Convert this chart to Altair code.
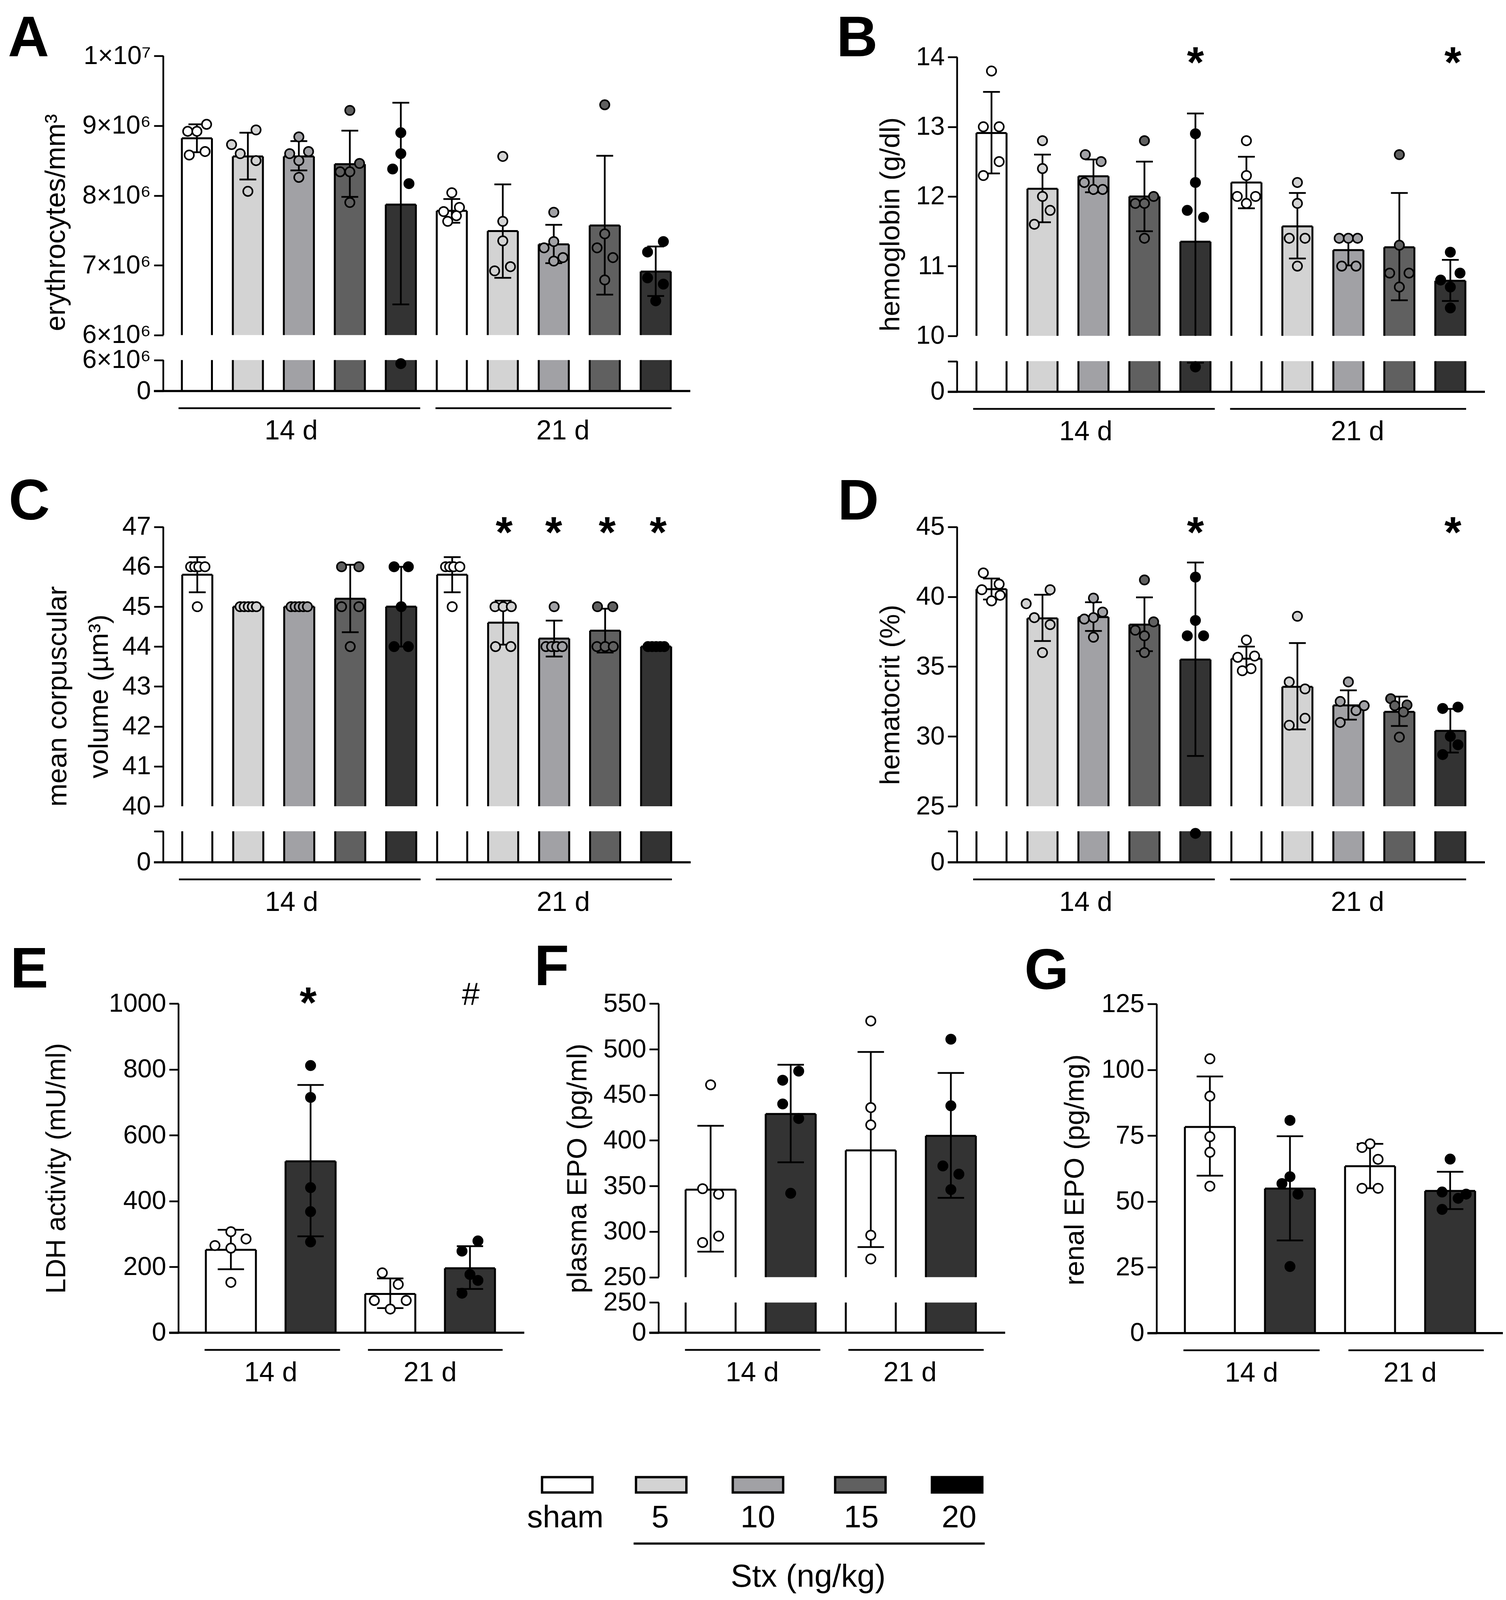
import altair as alt
import pandas as pd

FONT = "Liberation Sans"
PAGE = 8
W, H = 3839, 4080
EPS = 1e-6
# the photographed page stops near 4096 px, so vertical placement is squeezed to keep the legend in
YS = 4090 / 4282

five = ["#ffffff", "#d3d3d3", "#a1a1a5", "#606060", "#333333"] * 2
five_pts = ["#ffffff", "#d3d3d3", "#a1a1a5", "#606060", "#000000"] * 2
two = ["#ffffff", "#333333"] * 2
two_pts = ["#ffffff", "#000000"] * 2

# A erythrocytes, in millions
a_mean = [8.82, 8.56, 8.56, 8.45, 7.87, 7.78, 7.49, 7.30, 7.57, 6.91]
a_hi = [9.02, 8.90, 8.78, 8.93, 9.33, 7.95, 8.16, 7.58, 8.57, 7.27]
a_lo = [8.62, 8.23, 8.36, 7.98, 6.44, 7.61, 6.82, 7.03, 6.58, 6.56]
a_pts = [[8.92, 8.92, 9.02, 8.58, 8.63], [8.73, 8.60, 8.94, 8.50, 8.06], [8.84, 8.60, 8.63, 8.50, 8.26],
         [9.22, 8.46, 8.34, 8.34, 7.90], [8.90, 8.60, 8.38, 8.17, 5.30], [8.04, 7.83, 7.77, 7.71, 7.63],
         [8.56, 7.63, 7.35, 6.98, 6.92], [7.76, 7.34, 7.25, 7.11, 7.06], [9.30, 7.45, 7.25, 7.11, 6.79],
         [7.34, 7.19, 6.82, 6.73, 6.49]]
a_jit = [[-.18, 0, .19, -.15, .16], [-.32, -.15, .16, .16, 0], [0, -.18, .19, 0, 0],
         [0, .19, -.19, 0, 0], [0, 0, -.16, .16, 0], [0, .15, -.16, .09, -.08],
         [0, 0, 0, .15, -.16], [0, 0, -.19, .18, 0], [0, 0, -.15, .16, 0],
         [.15, -.16, -.16, .15, 0]]

# B hemoglobin
b_mean = [12.91, 12.11, 12.29, 12.0, 11.35, 12.2, 11.57, 11.23, 11.27, 10.79]
b_hi = [13.50, 12.60, 12.53, 12.5, 13.19, 12.57, 12.05, 11.43, 12.05, 11.09]
b_lo = [12.33, 11.63, 12.06, 11.5, 9.5, 11.83, 11.11, 11.01, 10.51, 10.5]
b_pts = [[13.8, 13.0, 13.0, 12.5, 12.3], [12.8, 12.4, 12.0, 11.8, 11.6], [12.6, 12.5, 12.2, 12.1, 12.1],
         [12.8, 12.0, 11.9, 11.9, 11.4], [12.9, 12.2, 11.8, 11.7, 8.1], [12.8, 12.3, 12.0, 12.0, 11.9],
         [12.2, 11.9, 11.4, 11.4, 11.0], [11.4, 11.4, 11.4, 11.0, 11.0], [12.6, 11.3, 10.9, 10.9, 10.7],
         [11.2, 10.9, 10.8, 10.7, 10.4]]
b_jit = [[0, -.16, .15, .15, -.16], [0, 0, 0, .15, -.16], [-.16, .15, -.18, 0, .18],
         [0, .18, -.18, 0, 0], [0, 0, -.16, .16, 0], [0, 0, -.18, .18, 0],
         [0, 0, -.16, .15, 0], [-.18, 0, .18, -.13, .15], [0, 0, -.19, .19, 0],
         [0, .19, -.19, 0, 0]]

# C mean corpuscular volume
c_mean = [45.8, 45.0, 45.0, 45.2, 45.0, 45.8, 44.6, 44.2, 44.4, 44.0]
c_hi = [46.24, 45.0, 45.0, 46.05, 46.0, 46.24, 45.15, 44.65, 44.95, 44.0]
c_lo = [45.36, 45.0, 45.0, 44.36, 44.0, 45.36, 44.05, 43.75, 43.85, 44.0]
c_pts = [[46, 46, 46, 46, 45], [45, 45, 45, 45, 45], [45, 45, 45, 45, 45],
         [46, 46, 45, 45, 44], [46, 46, 45, 44, 44], [46, 46, 46, 46, 45],
         [45, 45, 45, 44, 44], [45, 44, 44, 44, 44], [45, 45, 44, 44, 44],
         [44, 44, 44, 44, 44]]
c_jit = [[-.13, -.05, .03, .15, 0], [-.16, -.08, 0, .08, .16], [-.16, -.08, 0, .08, .16],
         [-.17, .17, -.17, .17, 0], [-.14, .14, 0, -.14, .14], [-.13, -.05, .03, .15, 0],
         [-.16, 0, .16, -.15, .15], [0, -.16, -.05, .05, .16], [-.15, .15, -.16, 0, .16],
         [-.16, -.08, 0, .08, .16]]

# D hematocrit
d_mean = [40.54, 38.45, 38.54, 38.0, 35.5, 35.56, 33.55, 32.22, 31.76, 30.4]
d_hi = [41.3, 40.14, 39.6, 39.95, 42.45, 36.43, 36.68, 33.3, 32.85, 31.97]
d_lo = [39.8, 36.83, 37.55, 36.1, 28.6, 34.7, 30.5, 31.2, 30.75, 28.85]
d_pts = [[41.7, 40.9, 40.5, 40.1, 39.7], [40.5, 39.5, 38.5, 38.0, 36.0], [39.9, 38.9, 38.4, 38.5, 37.1],
         [41.2, 38.2, 37.6, 37.2, 36.0], [41.4, 38.3, 37.2, 37.2, 23.3], [36.9, 35.66, 35.75, 34.85, 34.7],
         [38.6, 33.9, 33.4, 31.3, 30.8], [33.9, 32.5, 32.2, 31.85, 31.0], [32.7, 32.25, 32.2, 31.75, 29.95],
         [32.0, 32.1, 30.0, 29.4, 28.7]]
d_jit = [[-.16, .15, -.19, .17, 0], [.15, -.32, -.16, .15, 0], [0, .18, -.18, 0, 0],
         [0, .18, -.18, 0, 0], [0, 0, -.16, .16, 0], [0, -.17, .16, .09, -.08],
         [0, -.16, .15, .15, -.16], [0, -.16, .31, .15, -.16], [-.17, .15, -.09, .08, 0],
         [-.15, .15, 0, .15, -.15]]

# E LDH activity
e_mean = [252, 521, 118, 196]
e_hi = [313, 753, 165, 263]
e_lo = [193, 293, 75, 133]
e_pts = [[307, 285, 265, 257, 153], [812, 715, 441, 368, 276], [182, 147, 98, 98, 72], [279, 248, 177, 159, 120]]
e_jit = [[0, .19, -.2, 0, 0], [0, 0, 0, 0, 0], [-.1, .1, -.2, .2, 0], [.1, -.1, 0, .1, -.1]]

# F plasma EPO
f_mean = [346, 429, 389, 405]
f_hi = [416, 483, 497, 474]
f_lo = [278, 376, 283, 337]
f_pts = [[461, 347, 341, 295, 288], [476, 466, 440, 424, 342], [531, 436, 417, 296, 270], [511, 438, 372, 363, 346]]
f_jit = [[0, -.1, .1, .1, -.1], [.1, -.1, -.1, .1, 0], [0, 0, 0, 0, 0], [0, 0, -.1, .1, 0]]

# G renal EPO
g_mean = [78.3, 54.9, 63.4, 54.0]
g_hi = [97.5, 74.8, 71.9, 61.3]
g_lo = [59.8, 35.2, 55.0, 47.1]
g_pts = [[104.2, 90.0, 74.6, 68.7, 55.8], [80.8, 59.4, 56.8, 52.8, 25.3], [71.9, 70.5, 66.0, 55.0, 55.0], [66.1, 53.6, 52.8, 51.2, 47.0]]
g_jit = [[0, 0, 0, 0, 0], [0, 0, -.1, .1, 0], [0, -.1, .1, -.1, .1], [0, -.1, .2, .1, -.1]]

legend_names = ["sham", "5", "10", "15", "20"]
legend_fill = ["#ffffff", "#d3d3d3", "#a1a1a5", "#606060", "#000000"]
legend_pos = [0, 1, 2.03, 3.12, 4.15]


def sup(n):
    return f"{n}\u00d710\u2076"


def py(v):
    # reference pixel row to chart pixel row
    return v * YS - PAGE


panels = [
    dict(letter="A", mean=a_mean, hi=a_hi, lo=a_lo, pts=a_pts, jit=a_jit, fill=five, ptfill=five_pts,
         ax=418, c0=504, sp=130.5, right=1767, half=.295, top=150, up=898, low=965, zero=1048,
         ymax=10, brk=6, ticks=[7, 8, 9, 10], labels=[sup(7), sup(8), sup(9), "1\u00d710\u2077"],
         brk_up=sup(6), brk_low=sup(6), title="erythrocytes/mm\u00b3", tx=143, ty=596, tsize=72,
         lx=-345, ly=1, groups=[-.36, 4.38, 4.68, 9.31], lab=[1.85, 7.18], marks=[], mdy=18),
    dict(letter="B", mean=b_mean, hi=b_hi, lo=b_lo, pts=b_pts, jit=b_jit, fill=five, ptfill=five_pts,
         ax=2450, c0=2538, sp=130.5, right=3801, half=.295, top=153, up=900, low=968, zero=1050,
         ymax=14, brk=10, ticks=[11, 12, 13, 14], labels=["11", "12", "13", "14"],
         brk_up="10", brk_low="", title="hemoglobin (g/dl)", tx=2280, ty=601, tsize=71,
         lx=-256, ly=-2, groups=[-.36, 4.38, 4.68, 9.31], lab=[1.85, 7.18], marks=[(4, "*"), (9.05, "*")], mdy=18),
    dict(letter="C", mean=c_mean, hi=c_hi, lo=c_lo, pts=c_pts, jit=c_jit, fill=five, ptfill=five_pts,
         ax=418, c0=505, sp=130.5, right=1768, half=.295, top=1412, up=2161, low=2228, zero=2311,
         ymax=47, brk=40, ticks=[41, 42, 43, 44, 45, 46, 47], labels=["41", "42", "43", "44", "45", "46", "47"],
         brk_up="40", brk_low="", title=["mean corpuscular", "volume (\u00b5m\u00b3)"], tx=148, ty=1866, tsize=71,
         lx=-343, ly=-19, groups=[-.36, 4.38, 4.68, 9.31], lab=[1.85, 7.18],
         marks=[(6.02, "*"), (6.99, "*"), (8.04, "*"), (9.04, "*")], mdy=18),
    dict(letter="D", mean=d_mean, hi=d_hi, lo=d_lo, pts=d_pts, jit=d_jit, fill=five, ptfill=five_pts,
         ax=2450, c0=2538, sp=130.5, right=3801, half=.295, top=1412, up=2161, low=2228, zero=2311,
         ymax=45, brk=25, ticks=[30, 35, 40, 45], labels=["30", "35", "40", "45"],
         brk_up="25", brk_low="", title="hematocrit (%)", tx=2280, ty=1862, tsize=71,
         lx=-253, ly=-19, groups=[-.36, 4.38, 4.68, 9.31], lab=[1.85, 7.18], marks=[(4, "*"), (9.05, "*")], mdy=18),
    dict(letter="E", mean=e_mean, hi=e_hi, lo=e_lo, pts=e_pts, jit=e_jit, fill=two, ptfill=two_pts,
         ax=457, c0=591, sp=204, right=1342, half=.314, top=2690, up=None, low=None, zero=3572,
         ymax=1000, brk=None, ticks=[200, 400, 600, 800, 1000], labels=["200", "400", "600", "800", "1000"],
         brk_up="", brk_low="", title="LDH activity (mU/ml)", tx=145, ty=3131, tsize=70,
         lx=-382, ly=-41, groups=[-.33, 1.37, 1.72, 3.41], lab=[.5, 2.5], marks=[(.97, "*"), (3.01, "#")], mdy=2),
    dict(letter="F", mean=f_mean, hi=f_hi, lo=f_lo, pts=f_pts, jit=f_jit, fill=two, ptfill=two_pts,
         ax=1686, c0=1819, sp=205, right=2573, half=.312, top=2690, up=3423, low=3491, zero=3572,
         ymax=550, brk=250, ticks=[300, 350, 400, 450, 500, 550], labels=["300", "350", "400", "450", "500", "550"],
         brk_up="250", brk_low="250", title="plasma EPO (pg/ml)", tx=1479, ty=3131, tsize=71,
         lx=-274, ly=-47, groups=[-.32, 1.37, 1.72, 3.41], lab=[.52, 2.49], marks=[], mdy=0),
    dict(letter="G", mean=g_mean, hi=g_hi, lo=g_lo, pts=g_pts, jit=g_jit, fill=two, ptfill=two_pts,
         ax=2961, c0=3097, sp=205, right=3851, half=.312, top=2691, up=None, low=None, zero=3573,
         ymax=125, brk=None, ticks=[25, 50, 75, 100, 125], labels=["25", "50", "75", "100", "125"],
         brk_up="", brk_low="", title="renal EPO (pg/mg)", tx=2752, ty=3135, tsize=71,
         lx=-282, ly=-38, groups=[-.33, 1.37, 1.73, 3.42], lab=[.52, 2.5], marks=[], mdy=0),
]


def draw_panel(p):
    n = len(p["mean"])
    sp, c0, ax = p["sp"], p["c0"], p["ax"]
    brk = p["brk"]
    xs = alt.Scale(domain=[0, n - 1], range=[c0 - PAGE, c0 + sp * (n - 1) - PAGE], zero=False, nice=False)
    if brk is None:
        ys = alt.Scale(domain=[0, p["ymax"]], range=[py(p["zero"]), py(p["top"])], zero=False, nice=False)
    else:
        ys = alt.Scale(domain=[0, brk, brk + EPS, p["ymax"]],
                       range=[py(p["zero"]), py(p["low"]), py(p["up"]), py(p["top"])],
                       zero=False, nice=False)
    X = alt.X("x:Q", scale=xs, axis=None)
    Y = alt.Y("y:Q", scale=ys, axis=None)
    bot = 0 if brk is None else brk + EPS
    half = p["half"]
    ax_pos = (ax - c0) / sp
    base_left = (ax - 24 - c0) / sp
    base_right = (p["right"] - c0) / sp

    # axis with its two domain pieces drawn separately
    tick_vals = [0] + ([] if brk is None else [brk, brk + EPS]) + p["ticks"]
    tick_labs = ["0"] + ([] if brk is None else [p["brk_low"], p["brk_up"]]) + p["labels"]
    expr = "''"
    for v, t in zip(tick_vals, tick_labs):
        expr = f"datum.value=={v}?'{t}':" + expr
    axis = alt.Axis(orient="left", values=tick_vals, labelExpr=expr, offset=-(ax - PAGE), grid=False, domain=False,
                    tickSize=24, tickWidth=4.5, tickColor="black", labelFontSize=66, labelFont=FONT,
                    labelColor="black", labelPadding=8, labelOverlap=False, labelFlush=False, labelBound=False,
                    title=p["title"], titleFont=FONT, titleFontSize=p["tsize"], titleFontWeight="normal",
                    titleColor="black", titleAngle=270, titleAlign="center", titleBaseline="middle",
                    titleX=p["tx"] - ax, titleY=py(p["ty"]), titleLineHeight=p["tsize"] * 1.5)

    fills = []
    sides = []
    tops = []
    for i in range(n):
        fills.append(dict(x=i - half, x2=i + half, y=bot, y2=p["mean"][i], c=p["fill"][i]))
        tops.append(dict(x=i - half, x2=i + half, y=p["mean"][i]))
        for s in (-half, half):
            sides.append(dict(x=i + s, y=bot, y2=p["mean"][i]))
            if brk is not None:
                sides.append(dict(x=i + s, y=0, y2=brk))
        if brk is not None:
            fills.append(dict(x=i - half, x2=i + half, y=0, y2=brk, c=p["fill"][i]))

    stems = []
    caps = []
    dots = []
    for i in range(n):
        hi, lo = p["hi"][i], p["lo"][i]
        if brk is not None and lo < brk:
            stems.append(dict(x=i, y=brk + EPS, y2=hi))
            stems.append(dict(x=i, y=lo, y2=brk))
        else:
            stems.append(dict(x=i, y=lo, y2=hi))
        caps.append(dict(x=i - .165, x2=i + .165, y=hi))
        caps.append(dict(x=i - .165, x2=i + .165, y=lo))
        for v, j in zip(p["pts"][i], p["jit"][i]):
            dots.append(dict(x=i + j, y=v, c=p["ptfill"][i]))

    axis_segs = [dict(x=ax_pos, y=bot, y2=p["ymax"])]
    if brk is not None:
        axis_segs.append(dict(x=ax_pos, y=0, y2=brk))
    g = p["groups"]

    layers = [
        alt.Chart(pd.DataFrame(fills)).mark_rect(strokeWidth=0).encode(
            x=X, x2="x2:Q", y=alt.Y("y:Q", scale=ys, axis=axis), y2="y2:Q", fill=alt.Fill("c:N", scale=None)),
        alt.Chart(pd.DataFrame(sides)).mark_rule(color="black", strokeWidth=5).encode(x=X, y=Y, y2="y2:Q"),
        alt.Chart(pd.DataFrame(tops)).mark_rule(color="black", strokeWidth=5).encode(x=X, x2="x2:Q", y=Y),
        alt.Chart(pd.DataFrame(stems)).mark_rule(color="black", strokeWidth=4.5).encode(x=X, y=Y, y2="y2:Q"),
        alt.Chart(pd.DataFrame(caps)).mark_rule(color="black", strokeWidth=4.5).encode(x=X, x2="x2:Q", y=Y),
        alt.Chart(pd.DataFrame(dots)).mark_circle(size=572, stroke="black", strokeWidth=4, opacity=1).encode(
            x=X, y=Y, fill=alt.Fill("c:N", scale=None)),
        alt.Chart(pd.DataFrame(axis_segs)).mark_rule(color="black", strokeWidth=4.5).encode(x=X, y=Y, y2="y2:Q"),
        alt.Chart(pd.DataFrame([dict(x=base_left, x2=base_right, y=0)])).mark_rule(
            color="black", strokeWidth=5.5).encode(x=X, x2="x2:Q", y=Y),
        alt.Chart(pd.DataFrame([dict(x=g[0], x2=g[1], y=0), dict(x=g[2], x2=g[3], y=0)])).mark_rule(
            color="black", strokeWidth=4.5, yOffset=46 * YS).encode(x=X, x2="x2:Q", y=Y),
        alt.Chart(pd.DataFrame(dict(x=p["lab"], y=[0, 0], t=["14 d", "21 d"]))).mark_text(
            font=FONT, fontSize=70, color="black", baseline="middle", dy=108 * YS).encode(x=X, y=Y, text="t:N"),
        alt.Chart(pd.DataFrame([dict(x=ax_pos, y=p["ymax"], t=p["letter"])])).mark_text(
            font=FONT, fontSize=146, fontWeight="bold", color="black", baseline="alphabetic",
            dx=p["lx"], dy=p["ly"]).encode(x=X, y=Y, text="t:N"),
    ]
    stars = [dict(x=m[0], y=p["ymax"], t=m[1]) for m in p["marks"] if m[1] == "*"]
    hashes = [dict(x=m[0], y=p["ymax"], t=m[1]) for m in p["marks"] if m[1] == "#"]
    if stars:
        layers.append(alt.Chart(pd.DataFrame(stars)).mark_text(
            font=FONT, fontSize=112, fontWeight="bold", color="black", baseline="middle",
            dy=p["mdy"]).encode(x=X, y=Y, text="t:N"))
    if hashes:
        layers.append(alt.Chart(pd.DataFrame(hashes)).mark_text(
            font=FONT, fontSize=82, color="black", baseline="middle", dy=-22).encode(x=X, y=Y, text="t:N"))
    return layers


def draw_legend():
    xs = alt.Scale(domain=[0, 4.15], range=[1447 - PAGE, 2455 - PAGE], zero=False, nice=False)
    ys = alt.Scale(domain=[0, 1], range=[py(4000), py(3959)], zero=False, nice=False)
    X = alt.X("x:Q", scale=xs, axis=None)
    Y = alt.Y("y:Q", scale=ys, axis=None)
    swatch = pd.DataFrame(dict(x=legend_pos, y=[0] * 5, y2=[1] * 5, c=legend_fill, t=legend_names))
    return [
        alt.Chart(swatch).mark_bar(size=129, stroke="black", strokeWidth=6).encode(
            x=X, y=Y, y2="y2:Q", fill=alt.Fill("c:N", scale=None)),
        alt.Chart(swatch).mark_text(font=FONT, fontSize=80, color="black", baseline="middle", dy=68 * YS).encode(
            x=X, y=Y, text="t:N"),
        alt.Chart(pd.DataFrame([dict(x=.72, x2=4.42, y=0)])).mark_rule(
            color="black", strokeWidth=5.5, yOffset=137 * YS).encode(x=X, x2="x2:Q", y=Y),
        alt.Chart(pd.DataFrame([dict(x=2.56, y=0, t="Stx (ng/kg)")])).mark_text(
            font=FONT, fontSize=82, color="black", baseline="middle", dy=227 * YS).encode(x=X, y=Y, text="t:N"),
    ]


layers = []
for p in panels:
    layers += draw_panel(p)
layers += draw_legend()

chart = alt.layer(*layers).resolve_scale(x="independent", y="independent").properties(
    width=W,
    height=H,
    padding=0,
    autosize=alt.AutoSizeParams(type="none"),
    background="white",
).configure_view(stroke=None)

chart.save("out.html", embed_options={"renderer": "svg", "actions": False})
